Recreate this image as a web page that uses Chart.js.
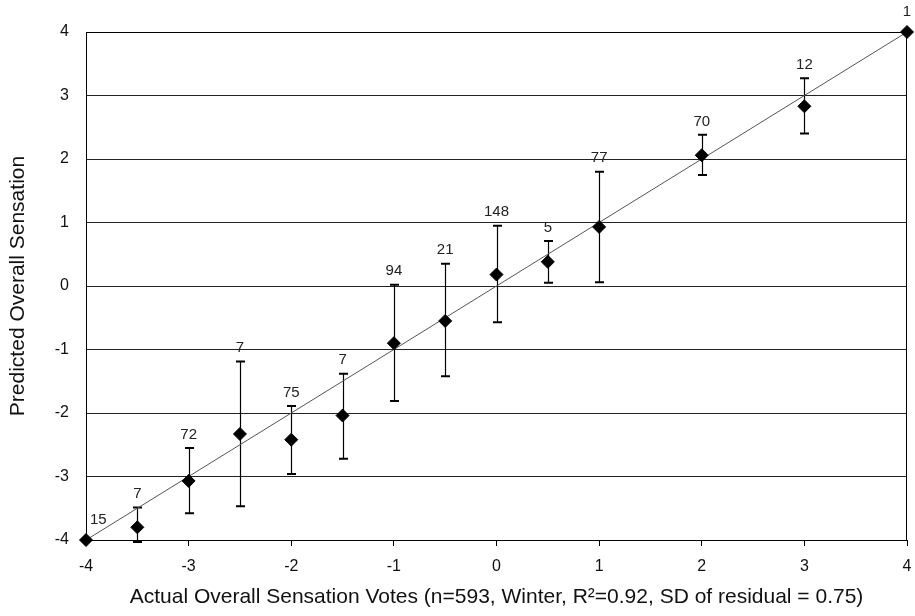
<!DOCTYPE html>
<html>
<head>
<meta charset="utf-8">
<script src="https://cdn.jsdelivr.net/npm/chart.js@4"></script>
<style>
  html, body { margin: 0; padding: 0; background: #fff; }
  #wrap { width: 915px; height: 616px; }
</style>
</head>
<body>
<div id="wrap"><canvas id="sensChart"></canvas></div>
<script>
// Actual vote (x) and mean predicted sensation (y) with error bar ends
const actualVotes = [-4, -3.5, -3, -2.5, -2, -1.5, -1, -0.5, 0, 0.5, 1, 2, 3, 4];
const predicted   = [-4, -3.80, -3.07, -2.33, -2.42, -2.04, -0.90, -0.55, 0.18, 0.38, 0.93, 2.06, 2.83, 4];
const upperBar    = [null, -3.49, -2.55, -1.19, -1.89, -1.38, 0.02, 0.35, 0.95, 0.71, 1.80, 2.38, 3.27, null];
const lowerBar    = [null, -4.03, -3.58, -3.47, -2.96, -2.72, -1.81, -1.42, -0.57, 0.05, 0.06, 1.75, 2.40, null];
const voteCounts  = [15, 7, 72, 7, 75, 7, 94, 21, 148, 5, 77, 70, 12, 1];

// 1:1 reference line
const lineX = [-4, 4];
const lineY = [-4, 4];

const axisTicks = [-4, -3, -2, -1, 0, 1, 2, 3, 4];

const FONT = '"Liberation Sans", Arial, sans-serif';

// Frame, error bars and count labels
const extrasPlugin = {
  id: 'extras',
  beforeDatasetsDraw(chart) {
    const { ctx, chartArea: a, scales: { x, y } } = chart;
    ctx.save();
    ctx.strokeStyle = '#000';
    ctx.lineWidth = 1;
    ctx.strokeRect(a.left + 0.5, a.top + 0.5, a.right - a.left - 1, a.bottom - a.top);

    // error bars
    actualVotes.forEach((v, i) => {
      if (upperBar[i] === null) return;
      const px = Math.round(x.getPixelForValue(v)) + 0.5;
      const top = y.getPixelForValue(upperBar[i]);
      const bot = y.getPixelForValue(lowerBar[i]);
      ctx.lineWidth = 1.2;
      ctx.beginPath();
      ctx.moveTo(px, top);
      ctx.lineTo(px, bot);
      ctx.stroke();
      ctx.lineWidth = 2;
      ctx.beginPath();
      ctx.moveTo(px - 4.5, top);
      ctx.lineTo(px + 4.5, top);
      ctx.moveTo(px - 4.5, bot);
      ctx.lineTo(px + 4.5, bot);
      ctx.stroke();
    });
    ctx.restore();
  },
  afterDatasetsDraw(chart) {
    const { ctx, chartArea: a, scales: { x, y } } = chart;
    ctx.save();
    ctx.font = '15px ' + FONT;
    ctx.fillStyle = '#222';
    ctx.textBaseline = 'bottom';
    ctx.textAlign = 'left';
    voteCounts.forEach((n, i) => {
      const px = x.getPixelForValue(actualVotes[i]);
      let base = y.getPixelForValue(predicted[i]) - 7;
      if (upperBar[i] !== null) base = Math.min(base, y.getPixelForValue(upperBar[i]));
      const label = String(n);
      const w = ctx.measureText(label).width;
      let left = px - w / 2;
      if (left < a.left + 4) left = a.left + 4; // keep inside the plot on the left
      ctx.fillText(label, left, base - 6);
    });
    ctx.restore();
  }
};

const ctx = document.getElementById('sensChart').getContext('2d');
const sensChart = new Chart(ctx, {
  type: 'scatter',
  data: {
    datasets: [
      {
        label: 'Predicted',
        data: actualVotes.map((v, i) => ({ x: v, y: predicted[i] })),
        pointStyle: 'rectRot',
        pointRadius: 6.5,
        pointHoverRadius: 6.5,
        backgroundColor: '#000',
        borderColor: '#000',
        borderWidth: 1,
        clip: false,
        order: 1
      },
      {
        label: '1:1',
        data: lineX.map((v, i) => ({ x: v, y: lineY[i] })),
        showLine: true,
        borderColor: '#555',
        borderWidth: 1,
        pointRadius: 0,
        fill: false,
        order: 2
      }
    ]
  },
  plugins: [extrasPlugin],
  options: {
    responsive: true,
    maintainAspectRatio: false,
    animation: false,
    layout: { padding: { left: 0, top: 32, right: 8, bottom: 0 } },
    plugins: {
      legend: { display: false },
      tooltip: { enabled: false }
    },
    scales: {
      x: {
        type: 'linear',
        min: -4,
        max: 4,
        afterBuildTicks(scale) { scale.ticks = axisTicks.map(v => ({ value: v })); },
        afterFit(scale) {
          scale.height = 76;
          scale.paddingLeft = 0;
          scale.paddingRight = 0;
        },
        grid: { drawOnChartArea: false, drawTicks: true, tickLength: 6, color: '#000' },
        border: { display: true, color: '#000', width: 1 },
        ticks: { color: '#111', padding: 11, font: { family: FONT, size: 16 } },
        title: {
          display: true,
          text: 'Actual Overall Sensation Votes (n=593, Winter, R\u00b2=0.92, SD of residual = 0.75)',
          color: '#111',
          font: { family: FONT, size: 21 },
          padding: { top: 0, bottom: 6 }
        }
      },
      y: {
        type: 'linear',
        min: -4,
        max: 4,
        afterBuildTicks(scale) { scale.ticks = axisTicks.map(v => ({ value: v })); },
        afterFit(scale) {
          scale.width = 86;
          scale.paddingTop = 0;
          scale.paddingBottom = 0;
        },
        grid: { drawOnChartArea: true, drawTicks: false, color: '#222', lineWidth: 1 },
        border: { display: true, color: '#000', width: 1 },
        ticks: { color: '#111', padding: 17, font: { family: FONT, size: 16 } },
        title: {
          display: true,
          text: 'Predicted Overall Sensation',
          color: '#111',
          font: { family: FONT, size: 21 },
          padding: { top: 6, bottom: 0 }
        }
      }
    }
  }
});
</script>
</body>
</html>
